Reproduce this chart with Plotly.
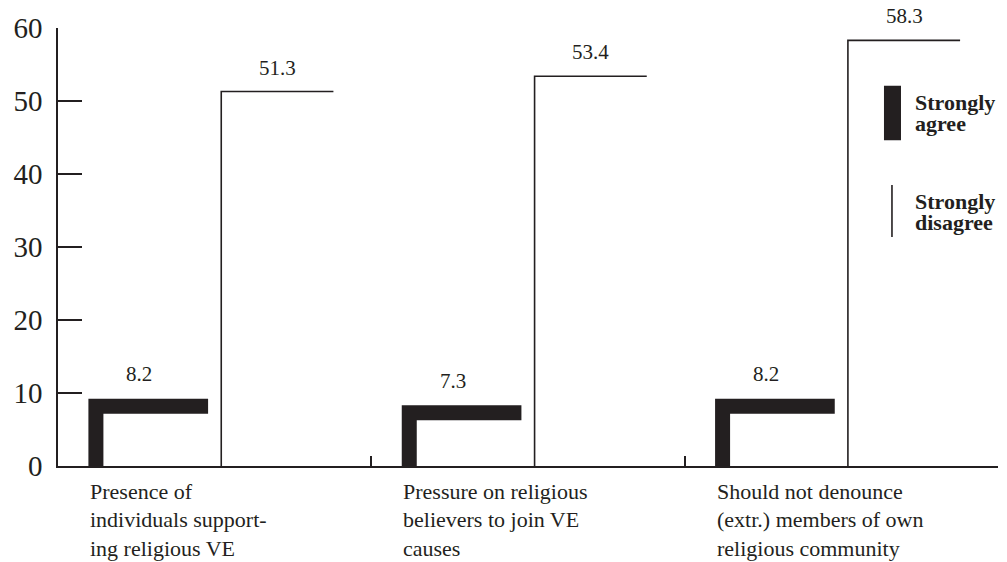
import plotly.graph_objects as go

# data
categories = [
    "Presence of<br>individuals support-<br>ing religious VE",
    "Pressure on religious<br>believers to join VE<br>causes",
    "Should not denounce<br>(extr.) members of own<br>religious community",
]
strongly_agree = [8.2, 7.3, 8.2]
strongly_disagree = [51.3, 53.4, 58.3]
y_ticks = [0, 10, 20, 30, 40, 50, 60]

INK = "#231f20"
SERIF = "Liberation Serif, Times New Roman, serif"
BAR_W = 0.358
OFFSET = 0.2


def corner_path(values, shift):
    # each bar is drawn only by its left side and its top
    xs, ys = [], []
    for i, v in enumerate(values):
        left = i + shift - BAR_W / 2
        right = i + shift + BAR_W / 2
        xs += [left, left, right, None]
        ys += [0, v, v, None]
    return xs, ys


fig = go.Figure()

xa, ya = corner_path(strongly_agree, -OFFSET)
fig.add_trace(go.Scatter(x=xa, y=ya, mode="lines", name="Strongly agree",
                         line=dict(color=INK, width=15), showlegend=False))
xd, yd = corner_path(strongly_disagree, OFFSET)
fig.add_trace(go.Scatter(x=xd, y=yd, mode="lines", name="Strongly disagree",
                         line=dict(color=INK, width=1.6), showlegend=False))

# value labels
for i, v in enumerate(strongly_agree):
    fig.add_annotation(x=i - OFFSET - 0.04, y=v, text=str(v), showarrow=False,
                       yanchor="bottom", yshift=18,
                       font=dict(family=SERIF, size=21, color=INK))
for i, v in enumerate(strongly_disagree):
    fig.add_annotation(x=i + OFFSET, y=v, text=str(v), showarrow=False,
                       yanchor="bottom", yshift=10,
                       font=dict(family=SERIF, size=21, color=INK))

# category labels, one annotation per line for tight leading
for i, cat in enumerate(categories):
    for k, line in enumerate(cat.split("<br>")):
        fig.add_annotation(x=i - OFFSET - BAR_W / 2 - 0.025, xanchor="left",
                           y=0, yref="paper", yanchor="middle",
                           yshift=-25 - 28.5 * k, text=line, showarrow=False,
                           font=dict(family=SERIF, size=22, color=INK))

# legend drawn by hand
fig.add_shape(type="rect", xref="paper", yref="paper",
              x0=0.8787, x1=0.8968, y0=0.744, y1=0.868,
              fillcolor=INK, line=dict(width=0))
fig.add_shape(type="line", xref="paper", yref="paper",
              x0=0.8872, x1=0.8872, y0=0.5228, y1=0.6416,
              line=dict(color=INK, width=1.6))
legend_text = [("Strongly", 0.830), ("agree", 0.782),
               ("Strongly", 0.603), ("disagree", 0.555)]
for txt, yy in legend_text:
    fig.add_annotation(x=0.9096, xref="paper", xanchor="left",
                       y=yy, yref="paper", yanchor="middle",
                       text="<b>" + txt + "</b>", showarrow=False,
                       font=dict(family=SERIF, size=22, color=INK))

fig.update_xaxes(range=[-0.5, 2.5], showline=True, linecolor=INK, linewidth=1.5,
                 ticks="inside", tickvals=[0.5, 1.5, 2.5], ticklen=10,
                 tickcolor=INK, tickwidth=1.5, showticklabels=False,
                 showgrid=False, zeroline=False, automargin=False)
fig.update_yaxes(range=[0, 60], showline=True, linecolor=INK, linewidth=1.5,
                 ticks="inside", tickvals=y_ticks, ticklen=24, tickcolor=INK,
                 tickwidth=1.5, ticklabelstandoff=8,
                 tickfont=dict(family=SERIF, size=29, color=INK),
                 showgrid=False, zeroline=False, automargin=False)

fig.update_layout(width=1007, height=562, plot_bgcolor="white",
                  paper_bgcolor="white",
                  margin=dict(l=58, r=9, t=28, b=96))

# drop the default 8px body margin so the figure fills the window
fig.write_html("out.html", config={"displayModeBar": False},
               post_script="document.body.style.margin='0';"
                           "document.body.style.overflow='hidden';")
